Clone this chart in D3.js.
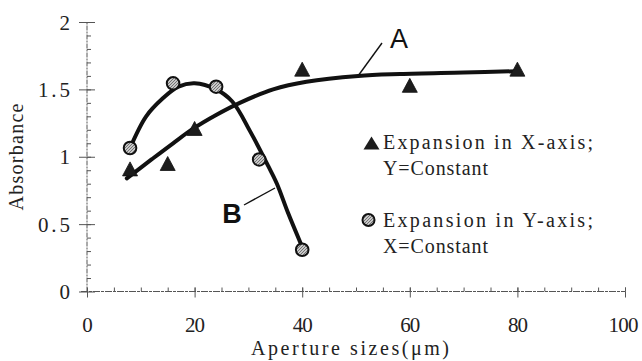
<!DOCTYPE html>
<html>
<head>
<meta charset="utf-8">
<script src="https://cdn.jsdelivr.net/npm/d3@7"></script>
<style>
  html, body { margin: 0; padding: 0; background: #fff; }
  svg { display: block; }
</style>
</head>
<body>
<svg id="chart" width="642" height="361"></svg>
<script>
// ---- data ----
const xTickValues = [0, 20, 40, 60, 80, 100];
const yTickValues = [0, 0.5, 1, 1.5, 2];

// measured points: expansion in X-axis (triangles) and in Y-axis (circles)
const aperturesA = [8, 15, 20, 40, 60, 80];
const absorbanceA = [0.91, 0.95, 1.21, 1.65, 1.53, 1.65];
const aperturesB = [8, 16, 24, 32, 40];
const absorbanceB = [1.065, 1.545, 1.52, 0.98, 0.31];

// fitted trend curves
const trendAx = [7.4, 12, 16, 19.8, 24, 28.4, 34.6, 40.8, 50.4, 58.2, 70, 80];
const trendAy = [0.84, 0.98, 1.10, 1.21, 1.31, 1.40, 1.50, 1.557, 1.60, 1.614, 1.625, 1.635];
const trendBx = [8, 11, 14, 17, 20, 24, 27, 30.3, 33.7, 35.3, 37.4, 39.9];
const trendBy = [1.065, 1.30, 1.43, 1.52, 1.545, 1.50, 1.41, 1.19, 0.93, 0.80, 0.58, 0.34];

const legendLinesA = ["Expansion in X-axis;", "Y=Constant"];
const legendLinesB = ["Expansion in Y-axis;", "X=Constant"];
const xTitle = "Aperture sizes(\u03bcm)";
const yTitle = "Absorbance";

// ---- layout ----
const svg = d3.select("#chart");
const x = d3.scaleLinear().domain([0, 100]).range([87, 625]);
const y = d3.scaleLinear().domain([0, 2]).range([291.5, 22]);
const INK = "#222";
const SERIF = "'Liberation Serif', 'DejaVu Serif', serif";

// serif text spread out to a fixed character pitch
function pitchText(parent, str, px, py, opts) {
  const o = Object.assign({ size: 20, pitch: 10.6, anchor: "start" }, opts || {});
  return parent.append("text")
    .attr("x", px).attr("y", py)
    .attr("font-family", SERIF)
    .attr("font-size", o.size)
    .attr("fill", INK)
    .attr("text-anchor", o.anchor)
    .attr("textLength", str.length * o.pitch)
    .attr("lengthAdjust", "spacing")
    .text(str);
}

// hatched fill for the circle markers
const defs = svg.append("defs");
const pat = defs.append("pattern")
  .attr("id", "hatch").attr("patternUnits", "userSpaceOnUse")
  .attr("width", 3).attr("height", 3);
pat.append("rect").attr("width", 3).attr("height", 3).attr("fill", "#c8c8c8");
pat.append("path").attr("d", "M0,3 L3,0").attr("stroke", "#6a6a6a").attr("stroke-width", 0.9);

// ---- axes ----
const axisG = svg.append("g");
const axisColor = "#555";

// axis lines
axisG.append("line")
  .attr("x1", x(0)).attr("x2", x(0)).attr("y1", y(0)).attr("y2", y(2))
  .attr("stroke", axisColor).attr("stroke-width", 1).attr("stroke-dasharray", "5 1 2 1");
axisG.append("line")
  .attr("x1", x(0) - 6).attr("x2", x(100)).attr("y1", y(0)).attr("y2", y(0))
  .attr("stroke", axisColor).attr("stroke-width", 1).attr("stroke-dasharray", "7 1 3 1");

// y: minor ticks (inside) and major ticks (crossing)
const yMinor = axisG.append("g").attr("transform", `translate(${x(0)},0)`)
  .call(d3.axisLeft(y).tickValues(y.ticks(20).filter(v => v > 0)).tickSize(-4).tickFormat(""));
const yMajorIn = axisG.append("g").attr("transform", `translate(${x(0)},0)`)
  .call(d3.axisLeft(y).tickValues(yTickValues).tickSize(-8).tickFormat(""));
const yMajor = axisG.append("g").attr("transform", `translate(${x(0)},0)`)
  .call(d3.axisLeft(y).tickValues(yTickValues).tickSize(8).tickPadding(9).tickFormat(d => String(d)));

// x: minor ticks (upward) and major ticks (crossing)
const xMinor = axisG.append("g").attr("transform", `translate(0,${y(0)})`)
  .call(d3.axisBottom(x).tickValues(x.ticks(20).filter(v => v > 0)).tickSize(-4).tickFormat(""));
const xMajorUp = axisG.append("g").attr("transform", `translate(0,${y(0)})`)
  .call(d3.axisBottom(x).tickValues(xTickValues).tickSize(-4).tickFormat(""));
const xMajor = axisG.append("g").attr("transform", `translate(0,${y(0)})`)
  .call(d3.axisBottom(x).tickValues(xTickValues).tickSize(6).tickFormat(d => String(d)));

[yMinor, yMajorIn, yMajor, xMinor, xMajorUp, xMajor].forEach(g => {
  g.select(".domain").remove();
  g.selectAll(".tick line").attr("stroke", axisColor).attr("stroke-width", 1);
});

// tick labels in the same spaced serif face
yMajor.selectAll(".tick text")
  .attr("font-family", SERIF).attr("font-size", 21).attr("fill", INK)
  .attr("dy", "0.34em")
  .each(function (d) {
    const s = String(d);
    d3.select(this).attr("textLength", s.length * 10.7).attr("lengthAdjust", "spacing");
  });
xMajor.selectAll(".tick text")
  .attr("font-family", SERIF).attr("font-size", 21).attr("fill", INK)
  .attr("y", 40).attr("dy", 0)
  .each(function (d) {
    const s = String(d);
    d3.select(this).attr("textLength", s.length * 10).attr("lengthAdjust", "spacing");
  })
  .filter(d => d === 100).attr("dx", -2);

// axis titles
pitchText(svg, xTitle, 350, 355, { size: 20, pitch: 11, anchor: "middle" });
const yt = svg.append("g").attr("transform", "translate(23,157) rotate(-90)");
pitchText(yt, yTitle, 0, 0, { size: 20, pitch: 10.7, anchor: "middle" });

// ---- trend curves ----
const line = d3.line()
  .x(d => x(d[0])).y(d => y(d[1]))
  .curve(d3.curveCatmullRom.alpha(0.5));
const plot = svg.append("g");
plot.append("path")
  .datum(d3.zip(trendAx, trendAy))
  .attr("d", line).attr("fill", "none")
  .attr("stroke", "#111").attr("stroke-width", 4).attr("stroke-linecap", "round");
plot.append("path")
  .datum(d3.zip(trendBx, trendBy))
  .attr("d", line).attr("fill", "none")
  .attr("stroke", "#111").attr("stroke-width", 4).attr("stroke-linecap", "round");

// ---- markers ----
function triPath(w, h) {
  return `M0,${-h / 2}L${w / 2},${h / 2}L${-w / 2},${h / 2}Z`;
}
plot.selectAll("path.tri")
  .data(d3.zip(aperturesA, absorbanceA))
  .join("path").attr("class", "tri")
  .attr("transform", d => `translate(${x(d[0])},${y(d[1])})`)
  .attr("d", triPath(15, 14))
  .attr("fill", "#1c1c1c").attr("stroke", "#111").attr("stroke-width", 0.8);

plot.selectAll("circle.dot")
  .data(d3.zip(aperturesB, absorbanceB))
  .join("circle").attr("class", "dot")
  .attr("cx", d => x(d[0])).attr("cy", d => y(d[1]))
  .attr("r", 6.3)
  .attr("fill", "url(#hatch)").attr("stroke", "#111").attr("stroke-width", 2);

// ---- curve labels with leader lines ----
plot.append("line").attr("x1", 358).attr("y1", 76).attr("x2", 382).attr("y2", 43)
  .attr("stroke", "#111").attr("stroke-width", 1.4);
plot.append("line").attr("x1", 244).attr("y1", 205).attr("x2", 275).attr("y2", 188)
  .attr("stroke", "#111").attr("stroke-width", 1.4);
svg.append("text").attr("x", 399).attr("y", 48).attr("text-anchor", "middle")
  .attr("font-family", "'Liberation Sans', Arial, sans-serif").attr("font-size", 27)
  .attr("fill", "#111").text("A");
svg.append("text").attr("x", 232).attr("y", 223).attr("text-anchor", "middle")
  .attr("font-family", "'Liberation Sans', Arial, sans-serif").attr("font-size", 27)
  .attr("font-weight", "bold").attr("fill", "#111").text("B");

// ---- legend ----
const lg = svg.append("g");
lg.append("path").attr("transform", "translate(371.5,143)").attr("d", triPath(16, 13))
  .attr("fill", "#1c1c1c");
lg.append("circle").attr("cx", 368.5).attr("cy", 220).attr("r", 6)
  .attr("fill", "url(#hatch)").attr("stroke", "#111").attr("stroke-width", 2);
legendLinesA.forEach((s, i) => pitchText(lg, s, 383, 149 + i * 26, { size: 20, pitch: 10.5 }));
legendLinesB.forEach((s, i) => pitchText(lg, s, 383, 227 + i * 26, { size: 20, pitch: 10.5 }));
</script>
</body>
</html>
